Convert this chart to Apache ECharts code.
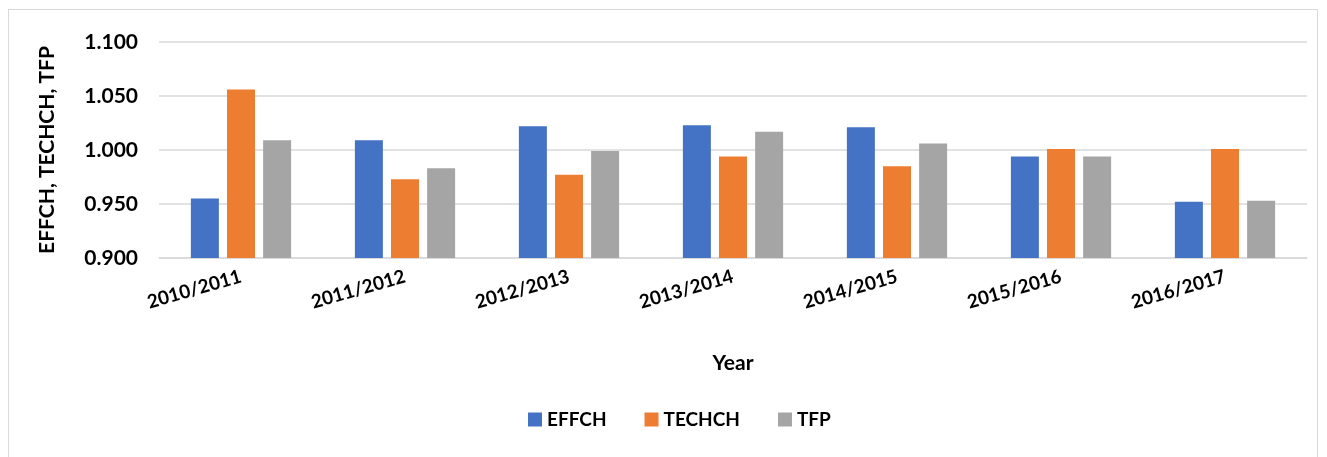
<!DOCTYPE html>
<html>
<head>
<meta charset="utf-8">
<script src="https://cdn.jsdelivr.net/npm/echarts@6/dist/echarts.min.js"></script>
<style>
  html, body { margin: 0; padding: 0; background: #fff; }
  #frame { position: absolute; left: 8px; top: 9px; width: 1310px; height: 460px; border: 1px solid #d9d9d9; box-sizing: border-box; }
  #chart { position: absolute; left: 0; top: 0; width: 1327px; height: 457px; }
</style>
</head>
<body>
<div id="frame"></div>
<div id="chart"></div>
<script>
// Malmquist index components by period
const years = ['2010/2011', '2011/2012', '2012/2013', '2013/2014', '2014/2015', '2015/2016', '2016/2017'];
const effch = [0.955, 1.009, 1.022, 1.023, 1.021, 0.994, 0.952];
const techch = [1.056, 0.973, 0.977, 0.994, 0.985, 1.001, 1.001];
const tfp = [1.009, 0.983, 0.999, 1.017, 1.006, 0.994, 0.953];

const font = 'Lato, "Open Sans", sans-serif';
const chart = echarts.init(document.getElementById('chart'));

const barStyle = (name, data, color) => ({
  name,
  type: 'bar',
  data,
  barWidth: 28,
  barGap: '29%',
  itemStyle: { color },
});

chart.setOption({
  animation: false,
  textStyle: { fontFamily: font },
  grid: { left: 159, right: 20, top: 42, bottom: 199 },
  legend: {
    left: 523,
    top: 405,
    itemWidth: 14,
    itemHeight: 14,
    itemGap: 38,
    icon: 'rect',
    textStyle: { fontFamily: font, fontWeight: 'bold', fontSize: 19, color: '#000' },
    data: ['EFFCH', 'TECHCH', 'TFP'],
  },
  xAxis: {
    type: 'category',
    data: years,
    name: 'Year',
    nameLocation: 'middle',
    nameGap: 95,
    nameTextStyle: { fontFamily: font, fontWeight: 'bold', fontSize: 21, color: '#000' },
    axisLine: { lineStyle: { color: '#d9d9d9', width: 1.5 } },
    axisTick: { show: false },
    axisLabel: {
      rotate: 16,
      margin: 18,
      fontFamily: font,
      fontWeight: 'bold',
      fontSize: 19,
      color: '#000',
    },
  },
  yAxis: {
    type: 'value',
    min: 0.9,
    max: 1.1,
    interval: 0.05,
    name: 'EFFCH, TECHCH, TFP',
    nameLocation: 'middle',
    nameGap: 101,
    nameTextStyle: { fontFamily: font, fontWeight: 'bold', fontSize: 21, color: '#000' },
    axisLine: { show: false },
    axisTick: { show: false },
    axisLabel: {
      margin: 21,
      fontFamily: font,
      fontWeight: 'bold',
      fontSize: 21,
      color: '#000',
      formatter: (v) => v.toFixed(3),
    },
    splitLine: { lineStyle: { color: '#d9d9d9', width: 1.5 } },
  },
  series: [
    barStyle('EFFCH', effch, '#4472C4'),
    barStyle('TECHCH', techch, '#ED7D31'),
    barStyle('TFP', tfp, '#A5A5A5'),
  ],
});
</script>
</body>
</html>
